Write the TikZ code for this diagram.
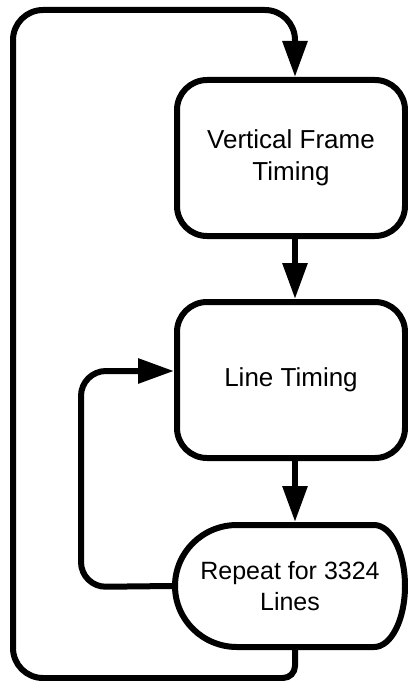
\documentclass[tikz,border=0pt]{standalone}
\usepackage{fontspec}
\setmainfont{Liberation Sans}
\usetikzlibrary{arrows.meta}
\begin{document}
\begin{tikzpicture}[x=1bp,y=-1bp,
  every path/.style={line width=6bp},
  box/.style={draw, line width=6bp, rounded corners=30bp, align=center,
    minimum width=228bp, minimum height=156bp, inner sep=0pt,
    font=\fontsize{26bp}{32bp}\selectfont},
  term/.style={line width=6bp, align=center, inner sep=0pt,
    minimum width=230bp, minimum height=122bp,
    font=\fontsize{25bp}{31bp}\selectfont},
  outline/.style={line width=6bp},
  arr/.style={line width=6bp, -{Triangle[length=36bp,width=24bp]}}]
\useasboundingbox (0,0) rectangle (407,681);
\node[box] (b1) at (291,158) {Vertical Frame\\Timing};
\node[box] (b2) at (291,380) {Line Timing};
\node[term] (b3) at (290,586) {Repeat for 3324\\Lines};
\draw[outline] (237,525) -- (374,525)
  arc[start angle=-90, end angle=90, x radius=31, y radius=61]
  -- (237,647)
  arc[start angle=90, end angle=270, x radius=62, y radius=61] -- cycle;
\coordinate (top) at (295,10);
\coordinate (bot) at (295,678);
\draw[arr] (b1.south -| top) -- (b2.north -| top);
\draw[arr] (b2.south -| top) -- (b3.north -| top);
\draw[arr, rounded corners=25bp] (b3.west) -- (81,587) -- (81,371) -- (b2.west |- 0,371);
\draw[arr, rounded corners=12bp] (b3.south -| bot) -- (bot) [rounded corners=30bp] -- (13,678) -- (13,10) -- (top) -- (b1.north -| top);
\end{tikzpicture}
\end{document}
